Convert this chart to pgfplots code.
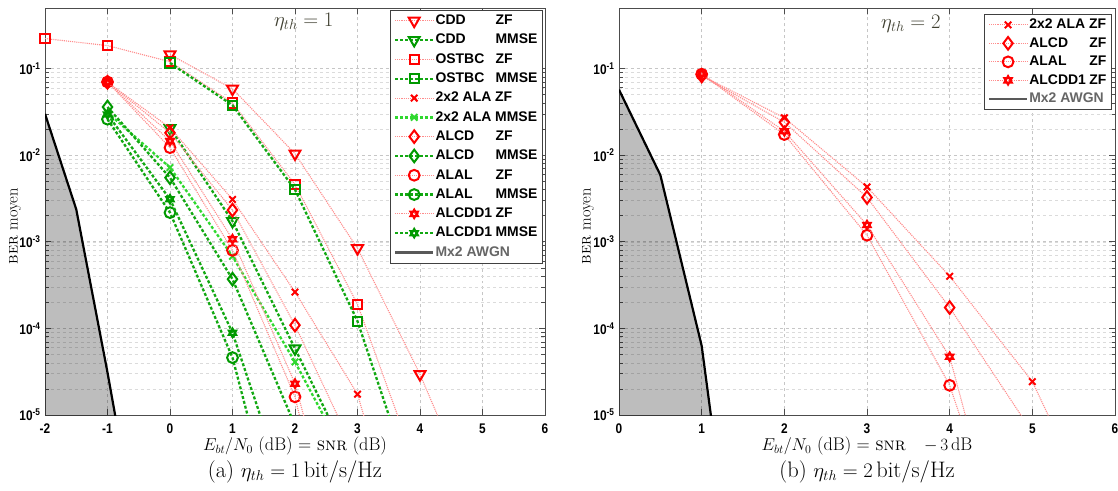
\documentclass[border=0pt]{standalone}
\usepackage{fontspec}
\setsansfont{Liberation Sans}
\newfontfamily\tickfont{Liberation Sans}[FakeStretch=0.85]
\usepackage{pgfplots}
\pgfplotsset{compat=1.18}

\definecolor{zfline}{HTML}{FF8C8C}
\definecolor{mred}{HTML}{FF0000}
\definecolor{mgreen}{HTML}{009900}
\definecolor{mmline}{HTML}{12A812}
\definecolor{lgreen}{HTML}{2FD82F}
\definecolor{annot}{HTML}{3F3F30}

\pgfdeclareplotmark{hexagram}{%
  \pgfpathmoveto{\pgfqpointpolar{90}{\pgfplotmarksize}}%
  \pgfpathlineto{\pgfqpointpolar{210}{\pgfplotmarksize}}%
  \pgfpathlineto{\pgfqpointpolar{330}{\pgfplotmarksize}}%
  \pgfpathclose
  \pgfpathmoveto{\pgfqpointpolar{270}{\pgfplotmarksize}}%
  \pgfpathlineto{\pgfqpointpolar{30}{\pgfplotmarksize}}%
  \pgfpathlineto{\pgfqpointpolar{150}{\pgfplotmarksize}}%
  \pgfpathclose
  \pgfusepathqstroke}

\newcommand{\lnm}[2]{\makebox[60bp][l]{#1}#2}
\newcommand{\rnm}[2]{\makebox[60bp][l]{#1}#2}
\newcommand{\tf}{\tickfont\bfseries\fontsize{14}{16}\selectfont}

\tikzset{
  zfs/.style={color=zfline, line width=1.1bp, densely dotted,
    mark options={solid, draw=mred, line width=2bp, fill=none}},
  mms/.style={color=mmline, line width=2.3bp, dash pattern=on 3bp off 2bp,
    mark options={solid, draw=mgreen, line width=2bp, fill=none}},
  mmA/.style={color=lgreen, line width=2.3bp, dash pattern=on 3bp off 2bp,
    mark options={solid, draw=lgreen, line width=2bp, fill=none}},
  mtri/.style={mark=triangle, mark size=6.3bp, every mark/.append style={rotate=180}},
  msq/.style={mark=square, mark size=4.7bp},
  mxx/.style={mark=x, mark size=4.6bp},
  mdia/.style={mark=diamond, mark size=6.3bp},
  mcir/.style={mark=o, mark size=5.4bp},
  mhex/.style={mark=hexagram, mark size=4.3bp},
  awgnline/.style={black, line width=2.2bp},
  awgnfill/.style={draw=none, fill=black, fill opacity=0.26},
}
\pgfplotsset{
  every axis/.append style={
    major grid style={dashed, gray!45, line width=0.6bp},
    minor grid style={dashed, gray!28, line width=0.5bp},
    axis line style={black!70, line width=0.8bp},
    tick style={black!70, line width=0.6bp},
    legend image code/.code={\draw[mark repeat=2,mark phase=2] plot coordinates {(0bp,0bp) (19bp,0bp) (38bp,0bp)};},
  },
}

\begin{document}
\begin{tikzpicture}
\useasboundingbox (0,0) rectangle (1118bp,491bp);

% ---------------- left panel ----------------
\begin{axis}[at={(45bp,76bp)}, anchor=south west,
  width=500bp, height=407bp, scale only axis, clip mode=individual,
  ymode=log, ymin=1e-5, ymax=0.5,
  ytick={1e-5,1e-4,1e-3,1e-2,1e-1},
  yticklabels={{\tf 10\textsuperscript{-5}},{\tf 10\textsuperscript{-4}},{\tf 10\textsuperscript{-3}},{\tf 10\textsuperscript{-2}},{\tf 10\textsuperscript{-1}}},
  xmin=-2, xmax=6, xtick={-2,-1,0,1,2,3,4,5,6},
  xticklabels={{\tf -2},{\tf -1},{\tf 0},{\tf 1},{\tf 2},{\tf 3},{\tf 4},{\tf 5},{\tf 6}},
  yticklabel style={xshift=-1bp},
  xticklabel style={yshift=-5bp},
  xmajorgrids, ymajorgrids, yminorgrids,
  tick align=inside, major tick length=6bp, minor tick length=3.5bp,
  legend cell align=left,
  legend style={font=\sffamily\bfseries\fontsize{14}{16}\selectfont,
      draw=black!75, line width=0.8bp, fill=white,
      row sep=4.4bp, inner xsep=4bp, inner ysep=3bp,
      nodes={inner sep=1.2bp, text height=10bp, text depth=2.5bp},
      at={(1,1)}, anchor=north east, xshift=-2bp, yshift=-2bp}]
\addplot[awgnfill, forget plot] coordinates {(-2,0.030) (-1.5,2.37e-3) (-1,3.1e-5) (-0.5,3e-7) (-0.5,1e-9) (-2,1e-9)};
\addplot[awgnline, forget plot] coordinates {(-2,0.030) (-1.5,2.37e-3) (-1,3.1e-5) (-0.5,3e-7)};

\addplot[zfs, mtri] coordinates {(0,0.145) (1,0.0584) (2,0.0104) (3,8.4e-4) (4,2.95e-5) (5,6e-7)};
\addlegendentry{\lnm{CDD}{ZF}}
\addplot[mms, mtri] coordinates {(0,0.0205) (1,1.73e-3) (2,5.85e-5) (3,2e-6)};
\addlegendentry{\lnm{CDD}{MMSE}}
\addplot[zfs, msq] coordinates {(-2,0.222) (-1,0.184) (0,0.12) (1,0.040) (2,4.6e-3) (3,1.9e-4) (4,1.9e-6)};
\addlegendentry{\lnm{OSTBC}{ZF}}
\addplot[mms, msq] coordinates {(0,0.116) (1,0.0377) (2,4.0e-3) (3,1.21e-4) (4,8.3e-7)};
\addlegendentry{\lnm{OSTBC}{MMSE}}
\addplot[zfs, mxx] coordinates {(-1,0.0695) (0,0.0207) (1,3.08e-3) (2,2.63e-4) (3,1.74e-5) (4,6e-8)};
\addlegendentry{2x2 ALA ZF}
\addplot[mmA, mxx] coordinates {(-1,0.031) (0,7.2e-3) (1,6.8e-4) (2,4.1e-5) (3,1.8e-6)};
\addlegendentry{2x2 ALA MMSE}
\addplot[zfs, mdia] coordinates {(-1,0.0695) (0,0.0181) (1,2.32e-3) (2,1.09e-4) (3,3.2e-6)};
\addlegendentry{\lnm{ALCD}{ZF}}
\addplot[mms, mdia] coordinates {(-1,0.036) (0,5.5e-3) (1,3.7e-4) (2,7.6e-6)};
\addlegendentry{\lnm{ALCD}{MMSE}}
\addplot[zfs, mcir] coordinates {(-1,0.070) (0,0.0122) (1,7.96e-4) (2,1.62e-5) (3,1.6e-8)};
\addlegendentry{\lnm{ALAL}{ZF}}
\addplot[mms, mcir] coordinates {(-1,0.026) (0,2.17e-3) (1,4.6e-5) (2,8e-8)};
\addlegendentry{\lnm{ALAL}{MMSE}}
\addplot[zfs, mhex] coordinates {(-1,0.0695) (0,0.0145) (1,1.07e-3) (2,2.3e-5) (3,5e-8)};
\addlegendentry{\lnm{ALCDD1}{ZF}}
\addplot[mms, mhex] coordinates {(-1,0.0295) (0,3.1e-3) (1,8.9e-5) (2,6.3e-7)};
\addlegendentry{\lnm{ALCDD1}{MMSE}}
\addlegendimage{black!65, line width=2.2bp}
\addlegendentry{\textcolor{black!60}{Mx2 AWGN}}

\node[annot, font=\fontsize{21}{24}\selectfont] at (axis cs:2.14,0.35) {$\eta_{th}=1$};
\node[rotate=90, font=\fontsize{16.5}{19}\selectfont] at ([xshift=-30bp]rel axis cs:0,0.464) {\textsc{ber} moyen};
\node[font=\fontsize{18.3}{21}\selectfont] at ([yshift=-31bp]rel axis cs:0.5,0) {$E_{bt}/N_0$ (dB) = \textsc{snr} (dB)};
\node[font=\fontsize{22.5}{26}\selectfont] at ([yshift=-57bp]rel axis cs:0.5,0) {(a) $\eta_{th}=1\,$bit/s/Hz};
\end{axis}

% ---------------- right panel ----------------
\begin{axis}[at={(619bp,76bp)}, anchor=south west,
  width=496bp, height=407bp, scale only axis, clip mode=individual,
  ymode=log, ymin=1e-5, ymax=0.5,
  ytick={1e-5,1e-4,1e-3,1e-2,1e-1},
  yticklabels={{\tf 10\textsuperscript{-5}},{\tf 10\textsuperscript{-4}},{\tf 10\textsuperscript{-3}},{\tf 10\textsuperscript{-2}},{\tf 10\textsuperscript{-1}}},
  xmin=0, xmax=6, xtick={0,1,2,3,4,5,6},
  xticklabels={{\tf 0},{\tf 1},{\tf 2},{\tf 3},{\tf 4},{\tf 5},{\tf 6}},
  yticklabel style={xshift=-1bp},
  xticklabel style={yshift=-5bp},
  xmajorgrids, ymajorgrids, yminorgrids,
  tick align=inside, major tick length=6bp, minor tick length=3.5bp,
  legend cell align=left,
  legend style={font=\sffamily\bfseries\fontsize{14}{16}\selectfont,
      draw=black!75, line width=0.8bp, fill=white,
      row sep=3.6bp, inner xsep=4bp, inner ysep=3bp,
      nodes={inner sep=1.2bp, text height=10bp, text depth=2.5bp},
      at={(1,1)}, anchor=north east, xshift=-3bp, yshift=-6bp}]
\addplot[awgnfill, forget plot] coordinates {(0,0.057) (0.5,5.9e-3) (1,6.3e-5) (1.5,1.6e-8) (1.5,1e-9) (0,1e-9)};
\addplot[awgnline, forget plot] coordinates {(0,0.057) (0.5,5.9e-3) (1,6.3e-5) (1.5,1.6e-8)};

\addplot[zfs, mxx] coordinates {(1,0.083) (2,0.027) (3,4.3e-3) (4,4.0e-4) (5,2.43e-5) (6,2.3e-7)};
\addlegendentry{2x2 ALA ZF}
\addplot[zfs, mdia] coordinates {(1,0.082) (2,0.024) (3,3.25e-3) (4,1.74e-4) (5,6.3e-6)};
\addlegendentry{\rnm{ALCD}{ZF}}
\addplot[zfs, mcir] coordinates {(1,0.086) (2,0.0173) (3,1.19e-3) (4,2.2e-5) (5,3.1e-8)};
\addlegendentry{\rnm{ALAL}{ZF}}
\addplot[zfs, mhex] coordinates {(1,0.087) (2,0.0189) (3,1.56e-3) (4,4.7e-5) (5,1.3e-8)};
\addlegendentry{\rnm{ALCDD1}{ZF}}
\addlegendimage{black!65, line width=2.2bp}
\addlegendentry{\textcolor{black!60}{Mx2 AWGN}}

\node[annot, font=\fontsize{21}{24}\selectfont] at (axis cs:3.53,0.33) {$\eta_{th}=2$};
\node[rotate=90, font=\fontsize{16.5}{19}\selectfont] at ([xshift=-31bp]rel axis cs:0,0.464) {\textsc{ber} moyen};
\node[font=\fontsize{18.3}{21}\selectfont] at ([yshift=-31bp]rel axis cs:0.5,0) {$E_{bt}/N_0$ (dB) = \textsc{snr}\quad$-\,3\,$dB};
\node[font=\fontsize{22.5}{26}\selectfont] at ([yshift=-57bp]rel axis cs:0.5,0) {(b) $\eta_{th}=2\,$bit/s/Hz};
\end{axis}
\end{tikzpicture}
\end{document}
